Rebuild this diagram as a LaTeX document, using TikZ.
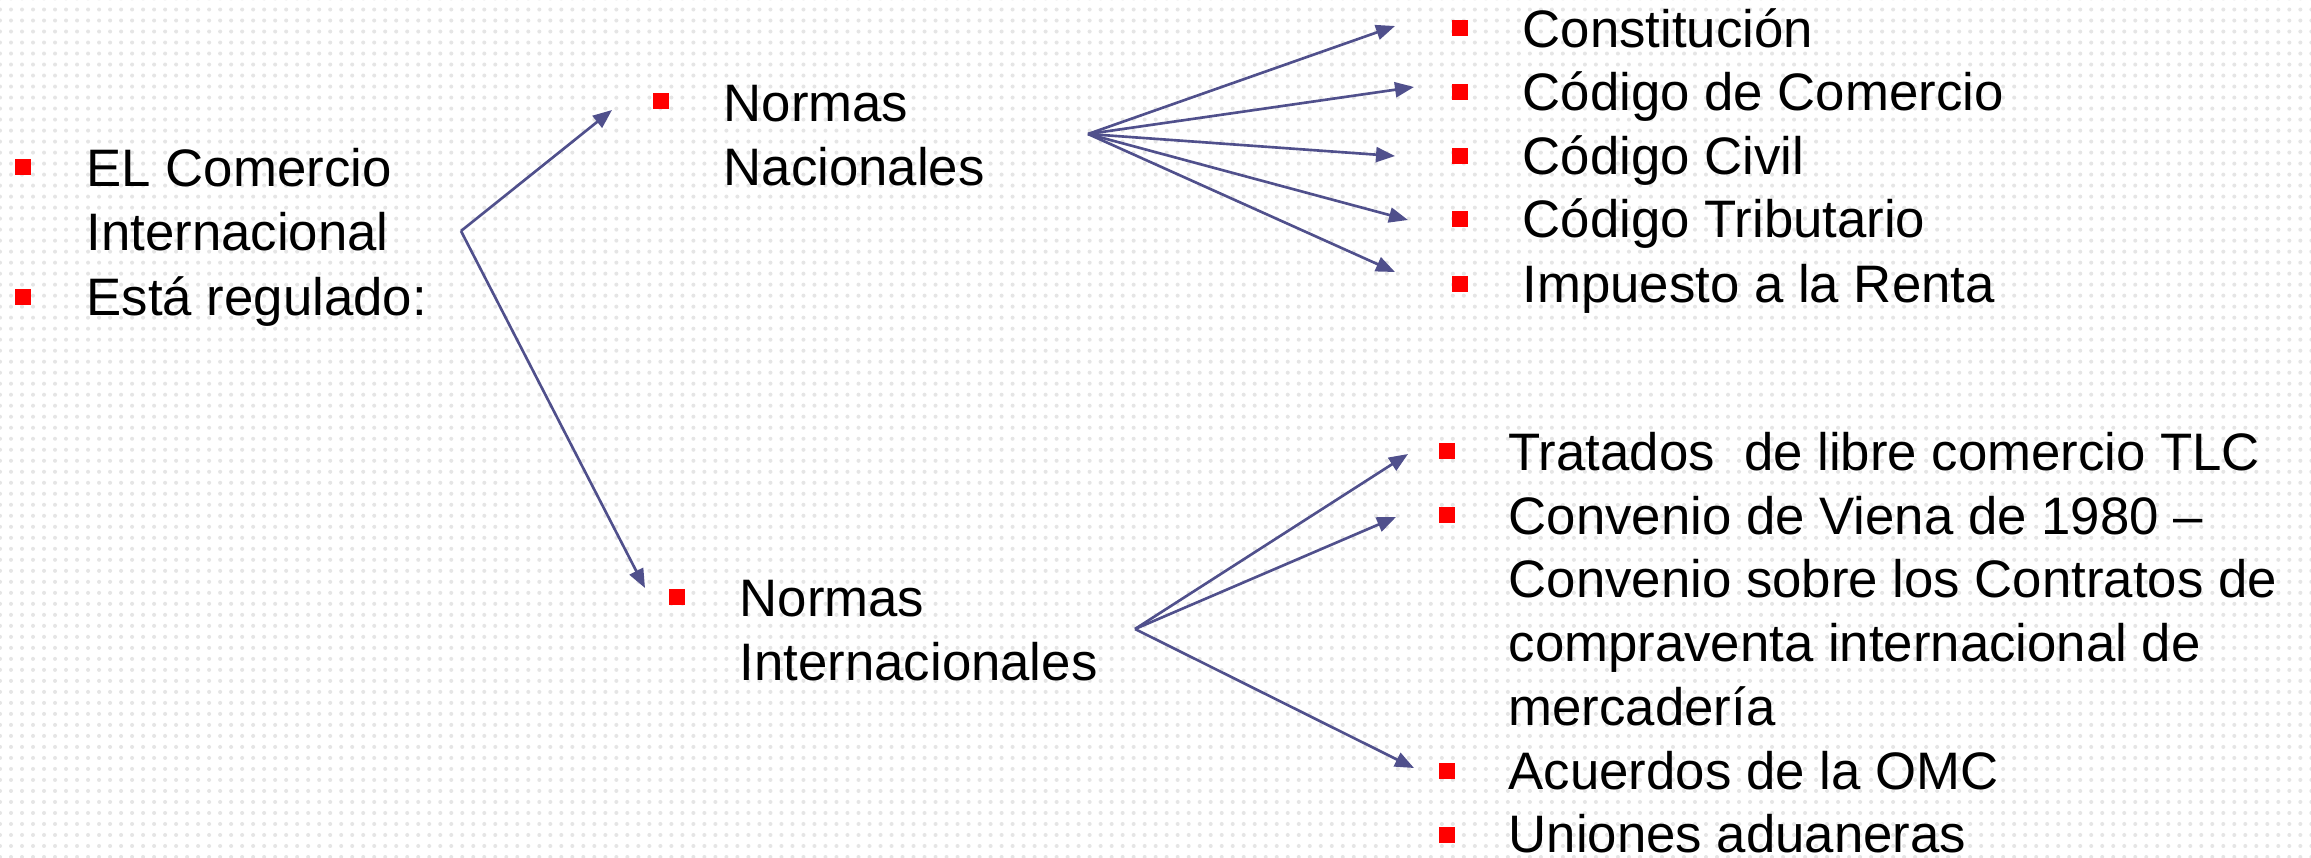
\documentclass[tikz,border=0pt]{standalone}
\usepackage{fontspec}
\setmainfont{Liberation Sans}
\usetikzlibrary{arrows.meta,patterns.meta}
\definecolor{flecha}{RGB}{80,80,140}

\begin{document}
\begin{tikzpicture}[x=0.01cm,y=-0.01cm,
  texto/.style={anchor=base west,align=left,inner sep=0pt,font=\fontsize{15}{18.1}\selectfont},
  vineta/.style={fill=red,inner sep=0pt,minimum size=0.155cm},
  flechas/.style={draw=flecha,line width=0.75pt,-{Triangle[length=0.19cm,width=0.15cm]}}]
\useasboundingbox (0,0) rectangle (2311,857);
\fill[white] (0,0) rectangle (2311,857);
\fill[pattern={Dots[distance=0.11cm,radius=0.02cm]},pattern color=black!10] (0,0) rectangle (2311,857);

% columna izquierda (base = ultima linea)
\node[vineta] (b1) at (23,167) {};
\node[vineta] (b2) at (23,297) {};
\node[texto] (comercio) at (86,250) {EL Comercio\\Internacional};
\node[texto] (regulado) at (86,315) {Está regulado:};

% normas
\node[vineta] (b3) at (661,101) {};
\node[texto] (nacionales) at (723,185) {Normas\\Nacionales};
\node[vineta] (b4) at (677,597) {};
\node[texto] (internacionales) at (739,680) {Normas\\Internacionales};

% lista nacional
\node[vineta] (n1) at (1460,28) {};
\node[vineta] (n2) at (1460,92) {};
\node[vineta] (n3) at (1460,156) {};
\node[vineta] (n4) at (1460,219) {};
\node[vineta] (n5) at (1460,284) {};
\node[texto] (constitucion) at (1522,47) {Constitución};
\node[texto] (cComercio) at (1522,110) {Código de Comercio};
\node[texto] (cCivil) at (1522,174) {Código Civil};
\node[texto] (cTributario) at (1522,237) {Código Tributario};
\node[texto] (renta) at (1522,302) {Impuesto a la Renta};

% lista internacional
\node[vineta] (i1) at (1447,451) {};
\node[vineta] (i2) at (1447,515) {};
\node[vineta] (i3) at (1447,771) {};
\node[vineta] (i4) at (1447,835) {};
\node[texto] (tlc) at (1508,470) {Tratados\ \ de libre comercio TLC};
\node[texto] (viena) at (1508,725) {Convenio de Viena de 1980 –\\Convenio sobre los Contratos de\\compraventa internacional de\\mercadería};
\node[texto] (omc) at (1508,789) {Acuerdos de la OMC};
\node[texto] (uniones) at (1508,852) {Uniones aduaneras};

% puntos de las flechas
\coordinate (raiz) at (461,231);
\coordinate (fanNac) at (1088,134);
\coordinate (fanInt) at (1135,629);
\coordinate (pNac) at (612,110);
\coordinate (pInt) at (645,588);
\coordinate (t1) at (1395,26);
\coordinate (t2) at (1414,87);
\coordinate (t3) at (1395,156);
\coordinate (t4) at (1408,220);
\coordinate (t5) at (1395,272);
\coordinate (u1) at (1408,454);
\coordinate (u2) at (1396,517);
\coordinate (u3) at (1414,768);

\draw[flechas] (raiz) -- (pNac);
\draw[flechas] (raiz) -- (pInt);
\draw[flechas] (fanNac) -- (t1);
\draw[flechas] (fanNac) -- (t2);
\draw[flechas] (fanNac) -- (t3);
\draw[flechas] (fanNac) -- (t4);
\draw[flechas] (fanNac) -- (t5);
\draw[flechas] (fanInt) -- (u1);
\draw[flechas] (fanInt) -- (u2);
\draw[flechas] (fanInt) -- (u3);
\end{tikzpicture}
\end{document}
